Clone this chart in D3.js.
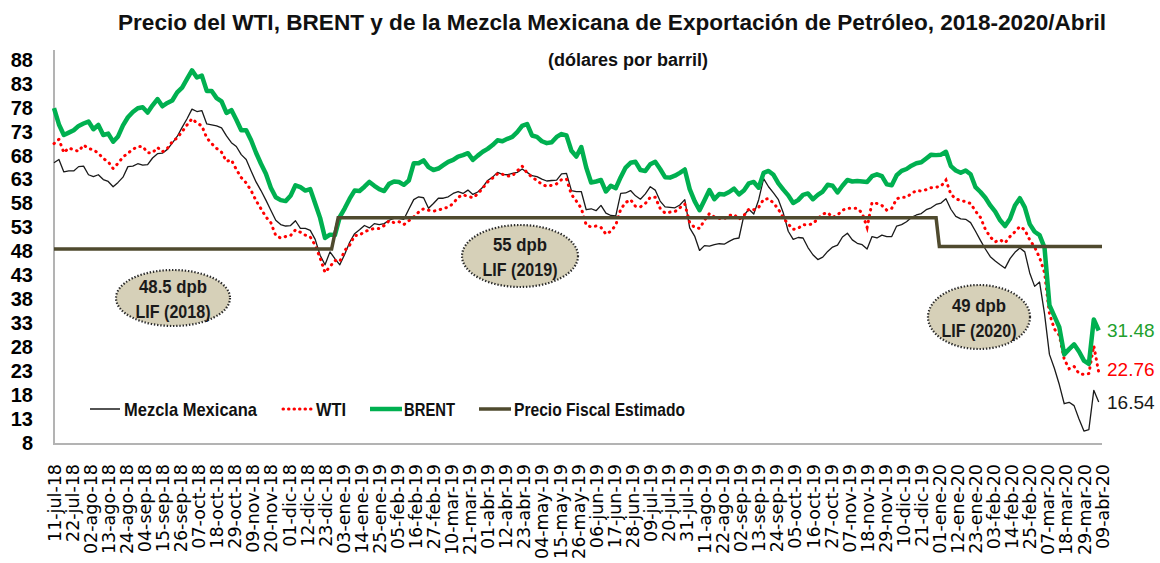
<!DOCTYPE html>
<html><head><meta charset="utf-8">
<script src="https://cdn.jsdelivr.net/npm/d3@7"></script>
<style>
html,body{margin:0;padding:0;background:#fff;}
svg{display:block;}
</style></head>
<body>
<svg id="chart" width="1160" height="563"></svg>
<script>
// ---------------- DATA ----------------
const titleText = "Precio del WTI, BRENT y de la Mezcla Mexicana de Exportación de Petróleo, 2018-2020/Abril";
const subtitleText = "(dólares por barril)";
const startDate = "2018-07-11";   // first observation
const stepDays = 3;                // observations sampled every 3 calendar days

const seriesNames = ["Mezcla Mexicana", "WTI", "BRENT", "Precio Fiscal Estimado"];

const mezcla = [
66.5,67.2,64.6,64.8,64.8,65.7,65.8,64,63.6,64,
63,62.6,61.5,62.4,63.5,65.7,65.8,66.3,66,66.1,
67.5,68.4,68.5,69.3,70.6,72,73.9,75.7,77.7,77.2,
77.4,74.6,74.4,74.2,73.8,72.1,70.7,69.9,68.2,67.2,
64.8,62.5,60.7,58.7,56.6,54.5,53.6,53.3,53.4,54.4,
52.8,52.8,52.4,50.5,47.2,45.2,47.9,46.5,45.2,47.4,
49.9,51.7,52.5,53.4,52.9,53.8,53.6,53.8,54.5,54.9,
54.9,54.7,56.8,58.8,59.4,59.2,57,58,59.1,59.1,
59.4,60.1,60.5,60.1,60.8,59.9,60.4,61.4,62.8,63.5,
64.5,64.1,64,64.3,64.5,65.2,64.5,63.8,63.6,63.1,
62.7,62.8,62.9,64.2,64.3,60.7,60.5,60.5,56.7,56.9,
56.5,57.6,56,55.5,55.4,60.1,60.2,60.7,59.6,58.9,
60,61.5,60.8,58.5,57.3,57.2,57.1,57.7,58.8,52.9,
51.2,48.2,49.2,49.1,49.4,49.6,49.5,50.1,50.6,50.8,
55.5,56.8,55.8,58.8,63.2,61.5,60.2,58.8,56,52.2,
50.5,50.9,50.8,48.8,47.3,46.3,46.8,48,48.9,49.3,
51,51.8,50.4,49.7,49.4,48.5,51.1,50.8,51.4,51.1,
51.1,53.3,53.6,54.2,55.1,55.6,55.9,56.7,57.1,57.8,
58.1,59,56.8,55.3,54.8,54.7,54,52.2,50.3,48.5,
46.9,46,45.2,44.5,46.5,47.8,48.7,47.9,43.5,40.7,
41.6,35,26.5,23.6,20.2,16.2,16.5,15.8,13,10.5,
10.8,19,16.54];

const wti = [
70.5,71.4,68.6,69.6,69.2,68.9,70.2,69.5,69.2,68.5,
67.4,66.7,65.3,66.4,67.7,68.5,69.3,69.9,69.9,68.6,
68.6,69.7,68.8,69.5,70.9,71.7,73,74.4,75.7,74.8,
74.2,71.7,70.5,69.5,68.7,66.8,67.1,65.1,63.4,62.3,
60.7,58.6,56.9,55.2,54,51.3,50.8,51.1,51.3,52.5,
52,51.4,51,49.3,46.6,43.6,44.8,46.1,45.9,48.2,
49.3,51.3,51.4,52.1,52.5,52.8,52.8,53.4,54.4,54,
54.2,53.6,54.4,55.2,56.2,56.9,56.6,56.4,56.6,57,
57.2,58,59.3,59.8,59.5,59.2,60,61.2,62.5,63.3,
64.2,64.1,63.7,63.8,64.8,65.8,64.4,63.5,62.8,62,
61.6,61.8,62.1,63,63.1,59.9,58.5,57,53.5,53.1,
53.3,53,51.6,52.2,53.5,56.8,58.2,58.8,57.4,57.3,
58,59.3,59.3,57,56,56.2,56.3,57.1,57.9,54,
53,52.8,54.5,55.9,55.2,54.9,54.8,55.5,55.7,54.7,
55.5,56.8,56.7,57.2,58.9,59,58.1,56.8,55,53.7,
52.6,52.8,53.6,53.5,53.8,54.8,55.8,56.1,55.1,55.6,
56.6,57,57,57,56,53,58.2,58,57.6,56.6,
57,59,59.3,59.3,60.1,60.7,60.6,60.9,61.3,61.4,
61.6,62.9,59.9,59,58.6,58.4,58,56.4,55.1,52.6,
51,50,50.4,49.8,51.1,52.1,53.2,52.5,50.4,48.9,
46.7,43.6,35,31.8,30.5,25.5,23.5,24,22.5,22.3,
22.5,28.3,22.76];

const brent = [
77.9,74.5,72.3,72.8,73.3,74.2,74.7,75.1,73.5,74.4,
72.3,72.6,70.9,72,74.3,76,77.1,77.9,78.1,77,
78.5,79.8,78.3,79,79.5,81.2,82.2,84,85.8,84.3,
84.7,81.5,81.5,80,79.3,76.9,77.5,75.5,73.3,73.3,
71.2,68.6,66.3,64.2,61.3,59.3,58.7,58.5,59.6,61.8,
61.4,60.7,61,58,55,50.8,51.5,51.4,55.2,57,
59,60.7,60.6,61.5,62.5,61.7,61,60.6,62.1,62.6,
62.5,61.9,62.8,66.4,66.4,67,65.6,65,65.3,66,
66.7,67.1,67.8,68.1,68.5,67.1,68,68.8,69.4,70.2,
71.2,71,71.5,71.9,72.9,74.2,74.6,72.2,71.9,71,
70.6,70.8,71.9,72.5,72.2,69,67.8,69.8,65.5,62.4,
62.6,62.9,60.5,61.7,61.2,63.5,65.5,66.5,66.7,65,
64.8,66.2,66.7,65.2,63.5,63.4,63.8,64.4,65.1,61,
58.5,56.6,58.7,60.8,58.9,60,59.9,60.4,61.1,59.9,
60.7,62.2,62.5,61.3,64.4,64.8,64,62.2,60.9,59.7,
58.1,58.7,59.8,60.1,58.9,59.8,60.5,61.9,61.7,60.3,
61.7,62.9,62.6,62.7,62.6,62.5,63.7,64.1,63.7,62,
61.8,63.9,64.8,65.2,65.9,66.4,66.6,67.4,68.2,68.1,
68.2,68.8,65.8,64.9,64.4,64.9,64.1,61.4,60.4,59.2,
57.6,56.3,54.5,53.3,54.8,57.6,59.1,57.2,53.7,52.1,
51.4,48.8,36.8,34.5,32.2,26.5,27.6,28.6,27.1,25.2,
24.5,33.8,31.48];

// Precio fiscal estimado (step line)
const fiscalDates  = ["2018-07-11","2018-12-27","2018-12-31","2019-12-30","2020-01-01","2020-04-09"];
const fiscalValues = [48.5, 48.5, 55, 55, 49, 49];

// Annotation bubbles
const bubbleLine1 = ["48.5 dpb", "55 dpb", "49 dpb"];
const bubbleLine2 = ["LIF (2018)", "LIF (2019)", "LIF (2020)"];

// Last values shown at the right end
const lastLabels = ["31.48", "22.76", "16.54"];

// Axis ticks
const yTicks = [8,13,18,23,28,33,38,43,48,53,58,63,68,73,78,83,88];
const xTickLabels = [
"11-jul-18","22-jul-18","02-ago-18","13-ago-18","24-ago-18","04-sep-18","15-sep-18","26-sep-18",
"07-oct-18","18-oct-18","29-oct-18","09-nov-18","20-nov-18","01-dic-18","12-dic-18","23-dic-18",
"03-ene-19","14-ene-19","25-ene-19","05-feb-19","16-feb-19","27-feb-19","10-mar-19","21-mar-19",
"01-abr-19","12-abr-19","23-abr-19","04-may-19","15-may-19","26-may-19","06-jun-19","17-jun-19",
"28-jun-19","09-jul-19","20-jul-19","31-jul-19","11-ago-19","22-ago-19","02-sep-19","13-sep-19",
"24-sep-19","05-oct-19","16-oct-19","27-oct-19","07-nov-19","18-nov-19","29-nov-19","10-dic-19",
"21-dic-19","01-ene-20","12-ene-20","23-ene-20","03-feb-20","14-feb-20","25-feb-20","07-mar-20",
"18-mar-20","29-mar-20","09-abr-20"];
const monthAbbr = ["ene","feb","mar","abr","may","jun","jul","ago","sep","oct","nov","dic"];

// ---------------- DRAW ----------------
const svg = d3.select("#chart");
const SANS = "'Liberation Sans',Arial,sans-serif";

const parseISO = d3.timeParse("%Y-%m-%d");
const parseLabel = s => { const [d,m,yy] = s.split("-"); return new Date(2000 + (+yy), monthAbbr.indexOf(m), +d); };
const start = parseISO(startDate);
const dates = mezcla.map((_, i) => d3.timeDay.offset(start, i * stepDays));
const tickDates = xTickLabels.map(parseLabel);

const x = d3.scaleTime().domain([tickDates[0], tickDates[tickDates.length - 1]]).range([54, 1102]);
const y = d3.scaleLinear().domain([8, 88]).range([443, 59.8]);

// helper: bold condensed-looking text fitted to a given width
function label(sel, txt, px, x0, y0, width, anchor) {
  const t = sel.append("text").attr("x", x0).attr("y", y0).attr("dy", "0.35em")
    .attr("text-anchor", anchor || "start")
    .style("font-family", SANS).style("font-weight", "bold").style("font-size", px + "px")
    .style("fill", "#111").text(txt);
  if (width) t.attr("textLength", width).attr("lengthAdjust", "spacingAndGlyphs");
  return t;
}

// Title & subtitle
label(svg, titleText, 22, 118, 22, 988);
label(svg, subtitleText, 17.5, 628, 60, 160, "middle");

// Axis frame
svg.append("line").attr("x1", 54).attr("x2", 54).attr("y1", 50).attr("y2", 444)
  .attr("stroke", "#b3b3b3").attr("stroke-width", 2);
svg.append("line").attr("x1", 53).attr("x2", 1102).attr("y1", 444).attr("y2", 444)
  .attr("stroke", "#b3b3b3").attr("stroke-width", 2);

// Y axis
const yAxis = svg.append("g").attr("transform", "translate(54,0)")
  .call(d3.axisLeft(y).tickValues(yTicks).tickSize(0).tickPadding(21).tickFormat(d3.format("d")));
yAxis.select(".domain").remove();
yAxis.selectAll("text").style("font-family", SANS)
  .style("font-weight", "bold").style("font-size", "20px").style("fill", "#000");

// X axis (rotated labels)
const sx = 1.03;
const xAxis = svg.append("g").attr("transform", "translate(0,444)")
  .call(d3.axisBottom(x).tickValues(tickDates).tickSize(0).tickFormat((d, i) => xTickLabels[i]));
xAxis.select(".domain").remove();
xAxis.selectAll("text")
  .attr("x", -20 / sx).attr("y", 0).attr("dy", "0.36em")
  .attr("transform", `rotate(-90) scale(${sx},1)`).style("text-anchor", "end")
  .style("font-family", "'DejaVu Sans',sans-serif").style("font-size", "17px").style("fill", "#000");

// Lines
const line = d3.line().x(d => x(d[0])).y(d => y(d[1]));
const zip = arr => arr.map((v, i) => [dates[i], v]);

svg.append("path").datum(zip(mezcla)).attr("d", line)
  .attr("fill", "none").attr("stroke", "#1a1a1a").attr("stroke-width", 1.3).attr("stroke-linejoin", "round");
svg.append("path").datum(zip(wti)).attr("d", line)
  .attr("fill", "none").attr("stroke", "#ff0000").attr("stroke-width", 3)
  .attr("stroke-linecap", "round").attr("stroke-dasharray", "0.5,5.5");
svg.append("path").datum(zip(brent)).attr("d", line)
  .attr("fill", "none").attr("stroke", "#00b050").attr("stroke-width", 4.5).attr("stroke-linejoin", "round");
svg.append("path").datum(fiscalDates.map((d, i) => [parseISO(d), fiscalValues[i]])).attr("d", line)
  .attr("fill", "none").attr("stroke", "#4f4a2e").attr("stroke-width", 3.5);

// Bubbles
const bubbles = [
  {cx: 173, cy: 298, rx: 57, ry: 28, w1: 68},
  {cx: 520, cy: 256, rx: 58, ry: 31, w1: 54},
  {cx: 979, cy: 317, rx: 51, ry: 32, w1: 54}
];
bubbles.forEach((b, i) => {
  const g = svg.append("g");
  g.append("ellipse").attr("cx", b.cx).attr("cy", b.cy).attr("rx", b.rx).attr("ry", b.ry)
    .attr("fill", "#d6d0b8").attr("stroke", "#2a2a2a").attr("stroke-width", 2.2)
    .attr("stroke-dasharray", "1.4,1.8");
  label(g, bubbleLine1[i], 19, b.cx, b.cy - 12, b.w1, "middle").style("fill", "#1a1a1a");
  label(g, bubbleLine2[i], 19, b.cx, b.cy + 13, 75, "middle").style("fill", "#1a1a1a");
});

// End labels
const lastVals = [brent[brent.length - 1], wti[wti.length - 1], mezcla[mezcla.length - 1]];
const lastColors = ["#22a02c", "#ff0000", "#1a1a1a"];
const lastOffsets = [0, -3, 0];
lastLabels.forEach((t, i) => {
  svg.append("text").attr("x", 1107).attr("y", y(lastVals[i]) + lastOffsets[i]).attr("dy", "0.35em")
    .style("font-family", SANS).style("font-size", "19px")
    .style("fill", lastColors[i]).text(t);
});

// Legend
const legend = [
  {x1: 90, x2: 120, tx: 124, tw: 133, stroke: "#1a1a1a", w: 1.5, dash: null, cap: "butt"},
  {x1: 283, x2: 312, tx: 316, tw: 30, stroke: "#ff0000", w: 3, dash: "0.5,5", cap: "round"},
  {x1: 370, x2: 402, tx: 404, tw: 51, stroke: "#00b050", w: 4.5, dash: null, cap: "butt"},
  {x1: 479, x2: 511, tx: 514, tw: 171, stroke: "#4f4a2e", w: 3.5, dash: null, cap: "butt"}
];
legend.forEach((l, i) => {
  svg.append("line").attr("x1", l.x1).attr("x2", l.x2).attr("y1", 409).attr("y2", 409)
    .attr("stroke", l.stroke).attr("stroke-width", l.w).attr("stroke-dasharray", l.dash)
    .attr("stroke-linecap", l.cap);
  label(svg, seriesNames[i], 19, l.tx, 409, l.tw);
});
</script>
</body></html>
